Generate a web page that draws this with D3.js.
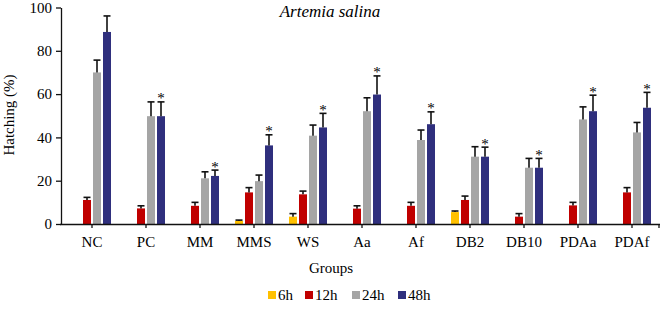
<!DOCTYPE html>
<html><head><meta charset="utf-8">
<script src="https://cdn.jsdelivr.net/npm/d3@7"></script>
<style>body{margin:0;background:#fff}svg{display:block}text{font-family:"Liberation Serif","Times New Roman",serif;fill:#000}</style>
</head><body><svg id="c" width="662" height="309"></svg>
<script>
const groups = ["NC","PC","MM","MMS","WS","Aa","Af","DB2","DB10","PDAa","PDAf"];
const series = ["6h","12h","24h","48h"];
const colors = ["#ffc000","#c00000","#a5a5a5","#2f2f7d"];
const h6   = [0,0,0,1.4,3.4,0,0,5.5,0,0,0];
const h6sd = [0,0,0,0.4,1.4,0,0,0.5,0,0,0];
const h12   = [11.1,7.2,8.4,14.6,13.7,7.1,8.4,11.1,3.4,8.6,14.6];
const h12sd = [1.2,1.2,1.6,2.2,1.5,1.3,1.6,1.8,1.4,1.4,2.2];
const h24   = [70.0,49.8,21.1,19.8,40.8,52.1,38.8,31.1,26.0,48.3,42.3];
const h24sd = [5.7,6.6,3.0,2.8,4.9,6.2,4.6,4.6,4.3,5.8,4.6];
const h48   = [88.7,49.8,22.2,36.3,44.6,59.8,46.1,31.1,26.0,52.1,53.7];
const h48sd = [7.4,6.6,2.7,4.9,6.5,8.6,5.7,4.4,4.3,7.4,7.1];
const signif = [false,true,true,true,true,true,true,true,true,true,true];
const yTicks = [0,20,40,60,80,100];

const means = [h6,h12,h24,h48], sds = [h6sd,h12sd,h24sd,h48sd];
const svg = d3.select("#c");
const x0 = d3.scaleBand().domain(groups).range([65,659]);
const x1 = d3.scaleBand().domain(series).range([0,38]).paddingInner(0.2);
const y = d3.scaleLinear().domain([0,100]).range([224,7.5]);

const data = [];
groups.forEach((g,i)=>series.forEach((s,j)=>{
  if (means[j][i] > 0) data.push({g, s, j, v: means[j][i], e: sds[j][i]});
}));
const bx = d => x0(d.g) + x0.bandwidth()/2 - 19 + x1(d.s);

svg.append("g").selectAll("rect").data(data).join("rect")
  .attr("x", bx).attr("width", x1.bandwidth())
  .attr("y", d=>y(d.v)).attr("height", d=>y(0)-y(d.v))
  .attr("fill", d=>colors[d.j]);

const eb = svg.append("g").attr("stroke","#111").attr("stroke-width",1.6);
data.filter(d=>d.e>0).forEach(d=>{
  const cx = bx(d) + x1.bandwidth()/2;
  eb.append("line").attr("x1",cx).attr("x2",cx).attr("y1",y(d.v)).attr("y2",y(d.v+d.e));
  eb.append("line").attr("x1",cx-3.5).attr("x2",cx+3.5).attr("y1",y(d.v+d.e)).attr("y2",y(d.v+d.e));
});

svg.append("g").selectAll("text").data(groups.filter((g,i)=>signif[i])).join("text")
  .attr("x", g=> x0(g)+x0.bandwidth()/2 - 19 + x1("48h") + x1.bandwidth()/2)
  .attr("y", g=> { const i = groups.indexOf(g); return y(h48[i]+h48sd[i]) + 1.5; })
  .attr("text-anchor","middle").attr("font-size",15).style("fill","#000").text("*");

// y axis
const ya = svg.append("g").attr("transform","translate(61,0)")
  .call(d3.axisLeft(y).tickValues(yTicks).tickSize(5).tickPadding(4).tickSizeOuter(0));
ya.select(".domain").attr("stroke","#111").attr("stroke-width",1.3);
ya.selectAll(".tick line").attr("stroke","#111").attr("stroke-width",1.3);
ya.selectAll("text").attr("font-size",15).attr("font-family","Liberation Serif").style("fill","#000");

// x axis
const xa = svg.append("g").attr("transform","translate(0,224)")
  .call(d3.axisBottom(x0).tickSize(4).tickPadding(8).tickSizeOuter(0));
xa.select(".domain").attr("d","M60,0.5H660").attr("stroke","#111").attr("stroke-width",1.3);
xa.selectAll(".tick line").attr("stroke","#111").attr("stroke-width",1.3);
xa.selectAll("text").attr("font-size",15).attr("font-family","Liberation Serif").style("fill","#000");
xa.append("line").attr("x1",659).attr("x2",659).attr("y1",0).attr("y2",4).attr("stroke","#111").attr("stroke-width",1.3);

svg.append("text").attr("x",330).attr("y",17).attr("text-anchor","middle")
  .attr("font-size",17).attr("font-style","italic").text("Artemia salina");
svg.append("text").attr("transform","translate(14,115) rotate(-90)").attr("text-anchor","middle")
  .attr("font-size",15).text("Hatching (%)");
svg.append("text").attr("x",331).attr("y",273).attr("text-anchor","middle")
  .attr("font-size",15).text("Groups");

const legX = [268,305,352,398];
const lg = svg.append("g");
series.forEach((s,j)=>{
  lg.append("rect").attr("x",legX[j]).attr("y",291).attr("width",8).attr("height",8).attr("fill",colors[j]);
  lg.append("text").attr("x",legX[j]+10).attr("y",300).attr("font-size",15).text(s);
});
</script></body></html>
